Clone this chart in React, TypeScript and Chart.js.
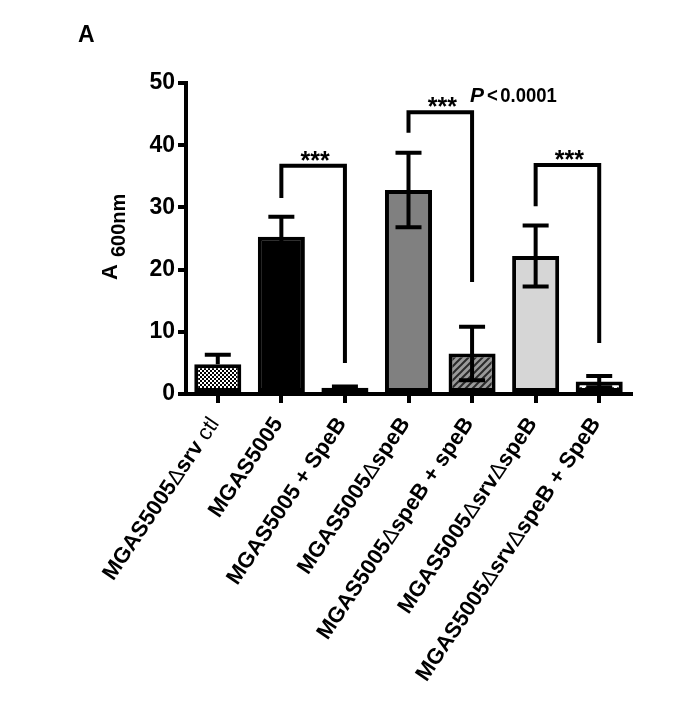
import React, { useEffect, useRef } from "react";
import { Chart, registerables } from "chart.js";

Chart.register(...registerables);

// ---------- data ----------
const categories = [
  "MGAS5005Δsrv ctl",
  "MGAS5005",
  "MGAS5005 + SpeB",
  "MGAS5005ΔspeB",
  "MGAS5005ΔspeB + speB",
  "MGAS5005ΔsrvΔspeB",
  "MGAS5005ΔsrvΔspeB + SpeB",
];
const means = [4.8, 25.3, 1.0, 32.8, 6.5, 22.2, 2.0];
const errors = [1.5, 3.2, 0.2, 6.0, 4.3, 4.9, 0.9];
const showLowerError = [false, true, true, true, true, true, true];

const yMin = 0;
const yMax = 50;
const yStep = 10;

const bracketFrom = [1, 3, 5];
const bracketTo = [2, 4, 6];
const bracketTop = [36.7, 45.3, 36.8];
const bracketLeftEnd = [31.5, 42.0, 30.2];
const bracketRightEnd = [5.0, 18.0, 8.2];
const bracketLabels = ["***", "***", "***"];
const pValueP = "P";
const pValueLt = "<";
const pValueNum = "0.0001";
const panelLabel = "A";
const yTitleMain = "A";
const yTitleSub = "600nm";

const FONT = "'Liberation Sans', Arial, sans-serif";

function makePattern(kind: string): CanvasPattern | string {
  const c = document.createElement("canvas");
  const g = c.getContext("2d")!;
  if (kind === "checker") {
    c.width = 4;
    c.height = 4;
    g.fillStyle = "#fff";
    g.fillRect(0, 0, 4, 4);
    g.fillStyle = "#000";
    g.fillRect(0, 0, 2, 2);
    g.fillRect(2, 2, 2, 2);
  } else if (kind === "hatch") {
    c.width = 7;
    c.height = 7;
    g.fillStyle = "#9a9a9a";
    g.fillRect(0, 0, 7, 7);
    g.strokeStyle = "#2a2a2a";
    g.lineWidth = 2;
    g.beginPath();
    g.moveTo(-1, 8);
    g.lineTo(8, -1);
    g.moveTo(-4, 4);
    g.lineTo(4, -4);
    g.moveTo(3, 11);
    g.lineTo(11, 3);
    g.stroke();
  } else if (kind === "dash") {
    c.width = 8;
    c.height = 5;
    g.fillStyle = "#fff";
    g.fillRect(0, 0, 8, 5);
    g.fillStyle = "#555";
    g.fillRect(1, 2, 5, 2);
  } else if (kind === "dim") {
    c.width = 8;
    c.height = 4;
    g.fillStyle = "#888";
    g.fillRect(0, 0, 8, 4);
  }
  return g.createPattern(c, "repeat") as CanvasPattern;
}

function splitLabel(label: string): { t: string; bold: boolean }[] {
  const segs: { t: string; bold: boolean }[] = [];
  const parts = label.split(/(Δ| ctl)/);
  for (const p of parts) {
    if (!p) continue;
    segs.push({ t: p, bold: !(p === "Δ" || p === " ctl") });
  }
  return segs;
}

const overlayPlugin = {
  id: "overlay",
  afterDatasetsDraw(chart: any) {
    const ctx: CanvasRenderingContext2D = chart.ctx;
    const meta = chart.getDatasetMeta(0);
    const ys = chart.scales.y;
    const xs = chart.scales.x;
    ctx.save();
    ctx.strokeStyle = "#000";
    ctx.lineWidth = 4;
    ctx.lineCap = "butt";
    // error bars
    const capHalf = 13;
    means.forEach((m, i) => {
      const x = meta.data[i].x;
      const yTop = ys.getPixelForValue(m + errors[i]);
      const yMid = ys.getPixelForValue(m);
      const yBot = showLowerError[i] ? ys.getPixelForValue(m - errors[i]) : yMid;
      ctx.beginPath();
      ctx.moveTo(x, yBot);
      ctx.lineTo(x, yTop);
      ctx.moveTo(x - capHalf, yTop);
      ctx.lineTo(x + capHalf, yTop);
      if (showLowerError[i]) {
        ctx.moveTo(x - capHalf, yBot);
        ctx.lineTo(x + capHalf, yBot);
      }
      ctx.stroke();
    });
    // brackets
    ctx.lineJoin = "miter";
    bracketFrom.forEach((from, k) => {
      const x1 = xs.getPixelForValue(from);
      const x2 = xs.getPixelForValue(bracketTo[k]);
      const yt = ys.getPixelForValue(bracketTop[k]);
      ctx.beginPath();
      ctx.moveTo(x1, ys.getPixelForValue(bracketLeftEnd[k]));
      ctx.lineTo(x1, yt);
      ctx.lineTo(x2, yt);
      ctx.lineTo(x2, ys.getPixelForValue(bracketRightEnd[k]));
      ctx.stroke();
      ctx.fillStyle = "#000";
      ctx.font = `bold 25px ${FONT}`;
      ctx.textAlign = "center";
      ctx.textBaseline = "alphabetic";
      ctx.fillText(bracketLabels[k], (x1 + x2) / 2 + 2, yt + 3);
      if (k === 1) {
        const px = x2 - 2;
        const py = yt - 10;
        ctx.textAlign = "left";
        ctx.font = `italic bold 21px ${FONT}`;
        ctx.fillText(pValueP, px, py);
        ctx.save();
        ctx.translate(px + 17, py);
        ctx.scale(0.88, 1);
        ctx.font = `bold 21px ${FONT}`;
        ctx.fillText(pValueLt, 0, 0);
        ctx.fillText(pValueNum, 15, 0);
        ctx.restore();
      }
    });
    ctx.restore();
  },
  afterDraw(chart: any) {
    const ctx: CanvasRenderingContext2D = chart.ctx;
    const xs = chart.scales.x;
    const area = chart.chartArea;
    ctx.save();
    ctx.fillStyle = "#000";
    // panel label
    ctx.font = `bold 23px ${FONT}`;
    ctx.textAlign = "left";
    ctx.textBaseline = "alphabetic";
    ctx.fillText(panelLabel, 78, 42);
    // y title
    ctx.save();
    ctx.translate(117, 280);
    ctx.rotate(-Math.PI / 2);
    ctx.font = `bold 22px ${FONT}`;
    ctx.fillText(yTitleMain, 0, 0);
    ctx.font = `bold 20px ${FONT}`;
    ctx.fillText(yTitleSub, 23, 8);
    ctx.restore();
    // x labels
    const ang = (56 * Math.PI) / 180;
    const fs = 22;
    categories.forEach((label, i) => {
      const x = xs.getPixelForValue(i);
      const segs = splitLabel(label);
      let total = 0;
      const widths = segs.map((s) => {
        ctx.font = `${s.bold ? "bold " : ""}${fs}px ${FONT}`;
        const w = ctx.measureText(s.t).width;
        total += w;
        return w;
      });
      ctx.save();
      ctx.translate(x - 3, area.bottom + 26);
      ctx.rotate(-ang);
      ctx.textAlign = "left";
      ctx.textBaseline = "middle";
      let cx = -total;
      segs.forEach((s, j) => {
        ctx.font = `${s.bold ? "bold " : ""}${fs}px ${FONT}`;
        ctx.fillText(s.t, cx, 0);
        cx += widths[j];
      });
      ctx.restore();
    });
    ctx.restore();
  },
};

export default function App() {
  const ref = useRef<HTMLCanvasElement | null>(null);
  useEffect(() => {
    const canvas = ref.current!;
    const fills = [
      makePattern("checker"),
      "#000000",
      makePattern("dim"),
      "#808080",
      makePattern("hatch"),
      "#d6d6d6",
      makePattern("dash"),
    ];
    const chart = new Chart(canvas, {
      type: "bar",
      data: {
        labels: categories,
        datasets: [
          {
            data: means,
            backgroundColor: fills as any,
            borderColor: "#000",
            borderWidth: 4,
            borderSkipped: false,
            barPercentage: 0.74,
            categoryPercentage: 1,
          },
        ],
      },
      options: {
        responsive: false,
        animation: false,
        layout: { padding: { left: 86, right: 54, top: 83, bottom: 307 } },
        plugins: { legend: { display: false }, tooltip: { enabled: false } },
        scales: {
          x: {
            grid: {
              display: true,
              drawOnChartArea: false,
              drawTicks: true,
              tickLength: 9,
              color: "#000",
              lineWidth: 4,
              offset: false,
            },
            border: { display: true, color: "#000", width: 4 },
            ticks: { display: false },
            afterFit: (s: any) => {
              s.height = 10;
            },
          },
          y: {
            min: yMin,
            max: yMax,
            grid: {
              display: true,
              drawOnChartArea: false,
              drawTicks: true,
              tickLength: 8,
              color: "#000",
              lineWidth: 4,
            },
            border: { display: true, color: "#000", width: 4 },
            ticks: {
              stepSize: yStep,
              color: "#000",
              padding: 3,
              font: { family: FONT, size: 23, weight: "bold" },
            },
            afterFit: (s: any) => {
              s.width = 100;
            },
          },
        },
      },
      plugins: [overlayPlugin],
    });
    return () => chart.destroy();
  }, []);
  return (
    <div style={{ position: "fixed", left: 0, top: 0, width: 685, height: 711, background: "#fff" }}>
      <canvas ref={ref} width={685} height={711} style={{ width: 685, height: 711, display: "block" }} />
    </div>
  );
}
